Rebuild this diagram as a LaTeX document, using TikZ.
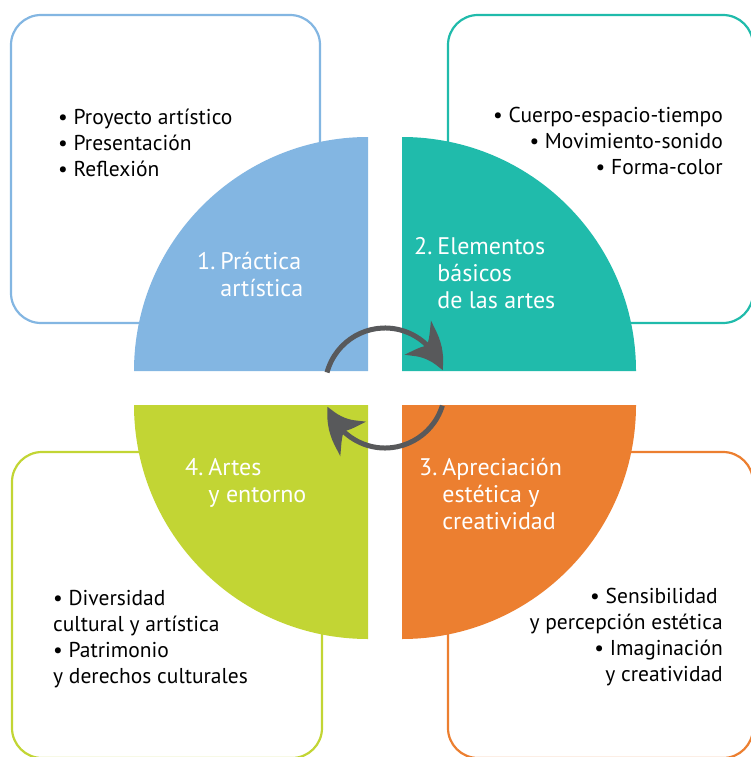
\documentclass[tikz,border=0pt]{standalone}
\usepackage{fontspec}
\setmainfont{PT Sans}
\usepackage{xcolor}
\usetikzlibrary{arrows.meta, bending}
\definecolor{azul}{HTML}{83B6E2}
\definecolor{turquesa}{HTML}{20BBAB}
\definecolor{naranja}{HTML}{EC7F30}
\definecolor{verde}{HTML}{C2D534}
\definecolor{gris}{HTML}{58595B}
\tikzstyle{card} = [rounded corners=30pt, line width=2.2pt, fill=white]
\tikzstyle{title} = [text=white, inner sep=0pt, font=\fontsize{24}{27}\selectfont]
\tikzstyle{items} = [inner sep=0pt, font=\fontsize{21.5}{26}\selectfont]
\tikzstyle{cyclearrow} = [line width=5pt, draw=gris, -{Stealth[length=42pt, width=42pt, inset=12pt, bend]}]

\begin{document}
\begin{tikzpicture}[x=1pt, y=-1pt]
    \useasboundingbox (0,0) rectangle (750,757);

    % cards
    \draw [card, draw=azul] (11,15) rectangle (320,323);
    \draw [card, draw=turquesa] (448,15) rectangle (753,323);
    \draw [card, draw=verde] (12,452) rectangle (322,758);
    \draw [card, draw=naranja] (448,452) rectangle (753,758);

    % quarters
    \fill [azul] (368,371) -- ++(180:234) arc[start angle=180, end angle=270, radius=234] -- cycle;
    \fill [turquesa] (402,371) -- ++(270:234) arc[start angle=270, end angle=360, radius=234] -- cycle;
    \fill [naranja] (402,405) -- ++(0:234) arc[start angle=0, end angle=90, radius=234] -- cycle;
    \fill [verde] (368,405) -- ++(90:234) arc[start angle=90, end angle=180, radius=234] -- cycle;

    \node (practica) [title, anchor=west] at (197,278) {\begin{tabular}{@{}l@{\hspace{5pt}}l@{}}1. & Práctica\\ & artística\end{tabular}};
    \node (elementos) [title, anchor=west] at (414,276) {\begin{tabular}{@{}l@{\hspace{5pt}}l@{}}2. & Elementos\\ & básicos\\ & de las artes\end{tabular}};
    \node (apreciacion) [title, anchor=west] at (419,497) {\begin{tabular}{@{}l@{\hspace{5pt}}l@{}}3. & Apreciación\\ & estética y\\ & creatividad\end{tabular}};
    \node (entorno) [title, anchor=west] at (185,484) {\begin{tabular}{@{}l@{\hspace{5pt}}l@{}}4. & Artes\\ & y entorno\end{tabular}};

    \node (listaA) [items, anchor=west, align=left] at (58,143) {\textbullet~Proyecto artístico\\\textbullet~Presentación\\\textbullet~Reflexión};
    \node (listaB) [items, anchor=east, align=right] at (723,141) {\textbullet~Cuerpo-espacio-tiempo\\\textbullet~Movimiento-sonido\\\textbullet~Forma-color};
    \node (listaC) [items, anchor=east, align=right] at (723,637) {\textbullet~Sensibilidad\hspace*{5pt}\\y percepción estética\\\textbullet~Imaginación\hspace*{5pt}\\y creatividad};
    \node (listaD) [items, anchor=west, align=left] at (53,639) {\textbullet~Diversidad\\cultural y artística\\\textbullet~Patrimonio\\y derechos culturales};

    % cycle
    \coordinate (hub) at (385,388);
    \draw [cyclearrow] ([shift={(195:60)}]hub) arc[start angle=195, end angle=343, radius=60];
    \draw [cyclearrow] ([shift={(17:60)}]hub) arc[start angle=17, end angle=162, radius=60];
\end{tikzpicture}
\end{document}
